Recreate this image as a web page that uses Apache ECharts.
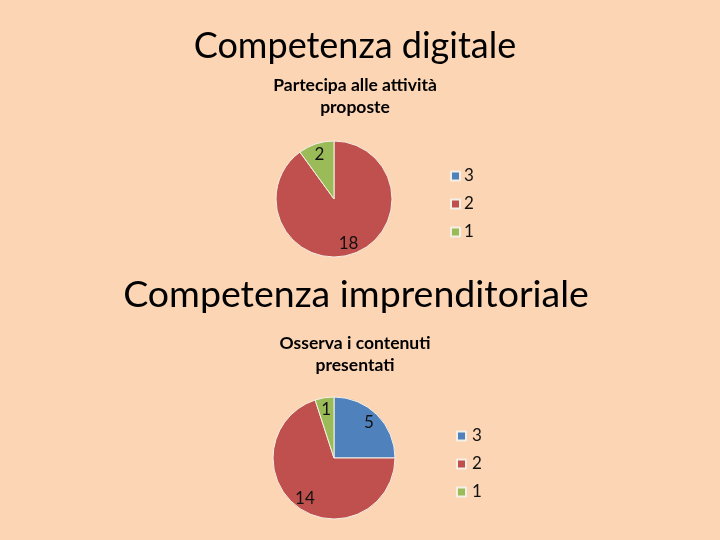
<!DOCTYPE html>
<html><head><meta charset="utf-8">
<script src="https://cdn.jsdelivr.net/npm/echarts@6/dist/echarts.min.js"></script>
<style>html,body{margin:0;padding:0;background:#FCD5B4}#c{width:720px;height:540px}</style>
</head><body><div id="c"></div>
<script>
const categories = ['3', '2', '1'];
const digitaleValues = [0, 18, 2];
const imprendValues = [5, 14, 1];
const sliceColors = ['#4F81BD', '#C0504D', '#9BBB59'];
const titles = ['Competenza digitale', 'Competenza imprenditoriale'];
const subtitles = ['Partecipa alle attività\nproposte', 'Osserva i contenuti\npresentati'];

const FONT = 'Lato, "Open Sans", sans-serif';

function pieData(values, withLabel) {
  return categories.map((n, i) => ({
    name: n, value: values[i],
    itemStyle: { color: withLabel ? 'rgba(0,0,0,0)' : sliceColors[i] },
    label: { show: withLabel && values[i] > 0 }
  }));
}

function pies(center, r, values) {
  return [
    {
      type: 'pie', center: center, radius: [0, r], startAngle: 90, clockwise: true,
      data: pieData(values, false),
      label: { show: false }, labelLine: { show: false },
      itemStyle: { borderColor: '#F4F0E6', borderWidth: 1 },
      emphasis: { disabled: true }, silent: true, animation: false
    },
    {
      type: 'pie', center: center, radius: [Math.round(r * 0.52), r], startAngle: 90, clockwise: true,
      data: pieData(values, true),
      label: { position: 'inside', formatter: '{c}', color: '#111', fontSize: 17, fontFamily: FONT },
      labelLine: { show: false },
      itemStyle: { borderWidth: 0 },
      emphasis: { disabled: true }, silent: true, animation: false
    }
  ];
}

const chart = echarts.init(document.getElementById('c'));
chart.setOption({
  backgroundColor: '#FCD5B4',
  animation: false,
  graphic: [
    { type: 'text', x: 355, y: 46, style: { text: titles[0], font: '400 36px ' + FONT, fill: '#000', align: 'center', verticalAlign: 'middle' } },
    { type: 'text', x: 355, y: 96, style: { text: subtitles[0], font: '700 17.5px ' + FONT, fill: '#000', align: 'center', verticalAlign: 'middle', lineHeight: 22 } },
    { type: 'text', x: 356, y: 295, style: { text: titles[1], font: '400 37.5px ' + FONT, fill: '#000', align: 'center', verticalAlign: 'middle' } },
    { type: 'text', x: 355, y: 354, style: { text: subtitles[1], font: '700 17.5px ' + FONT, fill: '#000', align: 'center', verticalAlign: 'middle', lineHeight: 22 } }
  ],
  legend: [
    { orient: 'vertical', left: 445, top: 162, itemWidth: 9, itemHeight: 9, itemGap: 10, icon: 'rect',
      data: categories, selectedMode: false,
      textStyle: { fontSize: 17, fontFamily: FONT, color: '#111', lineHeight: 18, padding: [0, 0, 0, -1] } },
    { orient: 'vertical', left: 451, top: 422, itemWidth: 9, itemHeight: 9, itemGap: 10, icon: 'rect',
      data: categories, selectedMode: false,
      textStyle: { fontSize: 17, fontFamily: FONT, color: '#111', lineHeight: 18, padding: [0, 0, 0, 1] } }
  ],
  series: [].concat(pies([334, 199], 58, digitaleValues), pies([334, 458], 61, imprendValues))
});
</script></body></html>
